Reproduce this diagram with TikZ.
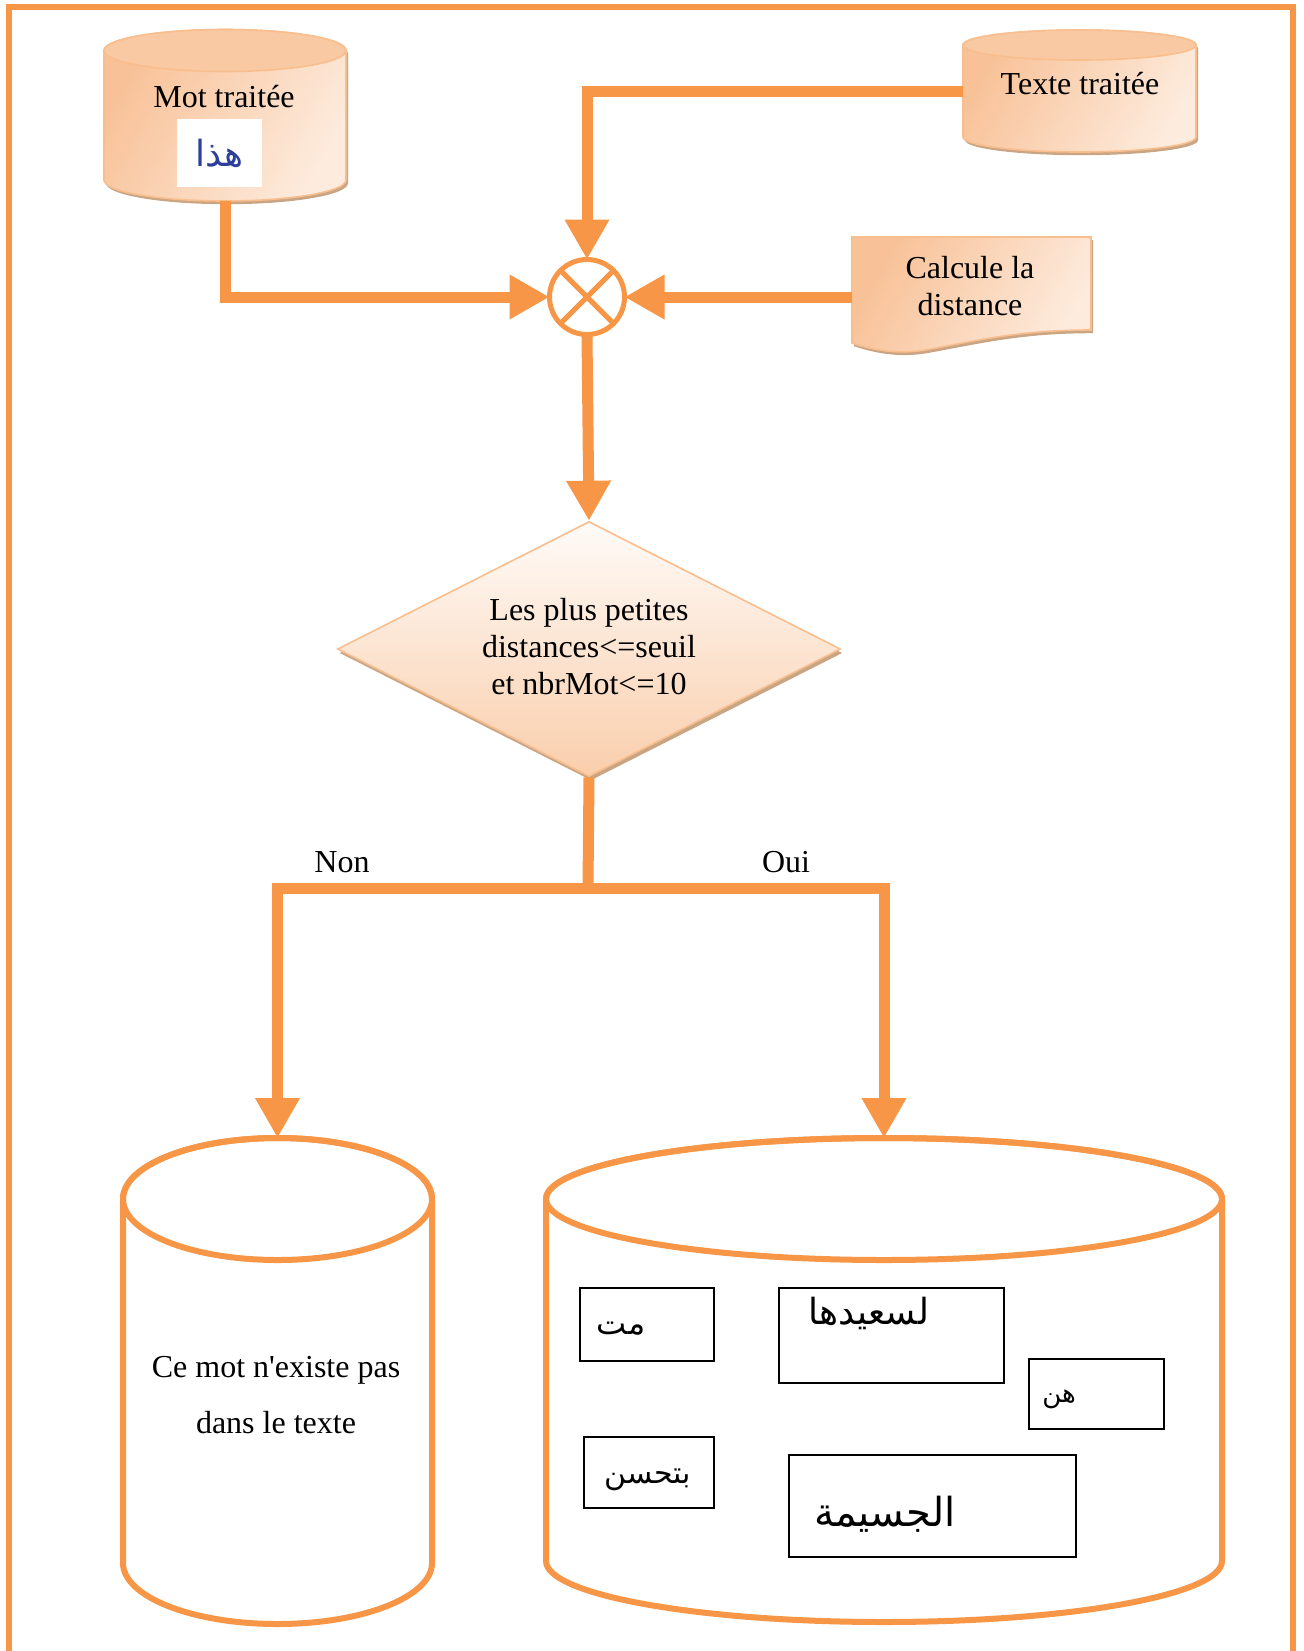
\documentclass[tikz,border=0pt]{standalone}
\usepackage{fontspec}
\setmainfont{Liberation Serif}[Ligatures=TeXOff]
\newfontfamily\arabicfont[Script=Arabic]{DejaVu Sans}
\TeXXeTstate=1
\usetikzlibrary{shapes.geometric,arrows.meta,shadows}

\definecolor{flowor}{HTML}{F79646}
\definecolor{peachtop}{HTML}{F9C9A3}
\definecolor{peachlight}{HTML}{FDEBDD}
\definecolor{peachdark}{HTML}{F8C197}
\definecolor{peachedge}{HTML}{F9BE8E}
\definecolor{peachshadow}{HTML}{C9A584}
\definecolor{inkblue}{HTML}{2E3F9B}

\tikzset{
	flow/.style={draw=flowor, line width=5.5pt, -{Triangle[length=20pt,width=21pt]}},
	link/.style={draw=flowor, line width=5.5pt},
	store/.style={inner sep=0pt, outer sep=0pt},
	peach/.style={draw=peachedge, line width=0.8pt, left color=peachdark, right color=peachlight, shading angle=60,
		drop shadow={shadow xshift=1pt, shadow yshift=-1.6pt, fill=peachshadow, opacity=1}},
	lid/.style={draw=peachedge, line width=0.8pt, fill=peachtop},
	drumline/.style={draw=flowor, line width=3pt},
	decision/.style={diamond, draw=peachedge, line width=0.8pt, top color=white!80!peachlight, bottom color=peachtop!85!peachlight,
		drop shadow={shadow xshift=1pt, shadow yshift=-2pt, fill=peachshadow, opacity=1},
		inner sep=0pt, minimum width=251.5pt, minimum height=127.5pt},
	wordbox/.style={draw=black, line width=1pt, inner sep=0pt},
	txt/.style={font=\fontsize{16}{18.5}\selectfont, align=center, inner sep=0pt},
	hw/.style={font={\arabicfont\fontsize{#1pt}{#1pt}\selectfont}, inner sep=0pt},
}

% cylinder round a node: node, x radius, y radius, body style, lid style
\newcommand{\drum}[5]{%
	\path[#4] ([yshift=-#3]#1.north west) -- ([yshift=#3]#1.south west)
		arc[start angle=180, end angle=360, x radius=#2, y radius=#3]
		-- ([yshift=-#3]#1.north east)
		arc[start angle=0, end angle=180, x radius=#2, y radius=#3] -- cycle;
	\path[#5] ([yshift=-#3]#1.north) ellipse[x radius=#2, y radius=#3];
}

\begin{document}
\begin{tikzpicture}[x=0.5pt, y=-0.5pt]
	\useasboundingbox (0,0) rectangle (1304,1651);
	%frame
	\draw[flowor, line width=3pt] (9,1651) -- (9,7) -- (1293,7) -- (1293,1651);
	
	%inputs
	\node[store, minimum width=121pt, minimum height=85.75pt] (mot) at (225,115.25) {};
	\drum{mot}{60.5pt}{10.5pt}{peach}{lid}
	\node[txt] (motlbl) at (224,97) {Mot traitée};
	\node[store, fill=white, minimum width=42.5pt, minimum height=34pt] (motimg) at (219.5,153) {};
	\node[hw=18, text=inkblue] (motword) at (motimg) {\beginR هذا\endR};
	
	\node[store, minimum width=116.5pt, minimum height=61pt] (texte) at (1079.5,91) {};
	\drum{texte}{58.25pt}{7.5pt}{peach}{lid}
	\node[txt] (textelbl) at (1080,84) {Texte traitée};
	
	\node[store, minimum width=119.5pt, minimum height=53pt] (calc) at (971.5,290) {};
	\path[peach] (calc.north west) -- (calc.north east) -- (1091,330)
		.. controls (1020,330) and (980,340) .. (925,350)
		.. controls (895,355) and (870,349) .. (852,343) -- cycle;
	\node[txt] (calclbl) at (970,286.5) {Calcule la\\distance};
	
	%comparison
	\node[circle, draw=flowor, line width=2.5pt, minimum size=37.5pt, inner sep=0pt, outer sep=0pt] (sum) at (587,297) {};
	\draw[flowor, line width=2.5pt] (sum.45) -- (sum.225) (sum.135) -- (sum.315);
	
	\node[decision] (test) at (589,649) {};
	\node[txt] (testlbl) at (589,647) {Les plus petites\\distances<=seuil\\et nbrMot<=10};
	\coordinate (fork) at (588,888);
	
	%outputs
	\node[store, minimum width=154.5pt, minimum height=243pt] (non) at (277.5,1381) {};
	\drum{non}{77.25pt}{30.5pt}{drumline}{drumline}
	\node[txt, font=\fontsize{16}{28}\selectfont] (nonmsg) at (276,1395) {Ce mot n'existe pas\\dans le texte};
	
	\node[store, minimum width=338pt, minimum height=242pt] (oui) at (884,1380) {};
	\drum{oui}{169pt}{30.5pt}{drumline}{drumline}
	
	\node[wordbox, minimum width=67pt, minimum height=36.5pt] (w1) at (647,1324.5) {};
	\node[wordbox, minimum width=112.5pt, minimum height=47.5pt] (w2) at (891.5,1335.5) {};
	\node[wordbox, minimum width=67.5pt, minimum height=35pt] (w3) at (1096.5,1394) {};
	\node[wordbox, minimum width=65pt, minimum height=35.5pt] (w4) at (649,1472.5) {};
	\node[wordbox, minimum width=143.5pt, minimum height=51pt] (w5) at (932.5,1506) {};
	\node[hw=16] (t1) at (621,1329) {\beginR مت\endR};
	\node[hw=18] (t2) at (869,1313) {\beginR لسعيدها\endR};
	\node[hw=13] (t3) at (1059,1399) {\beginR هن\endR};
	\node[hw=15] (t4) at (648,1480) {\beginR بتحسن\endR};
	\node[hw=20] (t5) at (885,1514) {\beginR الجسيمة\endR};
	
	%connectors
	\draw[flow] (mot.south) |- (sum.west);
	\draw[flow] (texte.west) -| (sum.north);
	\draw[flow] (calc.west |- sum.east) -- (sum.east);
	\draw[flow] (sum.south) -- (test.north);
	\draw[link] (test.south) -- (fork);
	\draw[flow] (fork) -| (non.north);
	\draw[flow] (fork) -| (oui.north);
	\node[txt] (nonlbl) at (342,862) {Non};
	\node[txt] (ouilbl) at (786,862) {Oui};
\end{tikzpicture}
\end{document}
